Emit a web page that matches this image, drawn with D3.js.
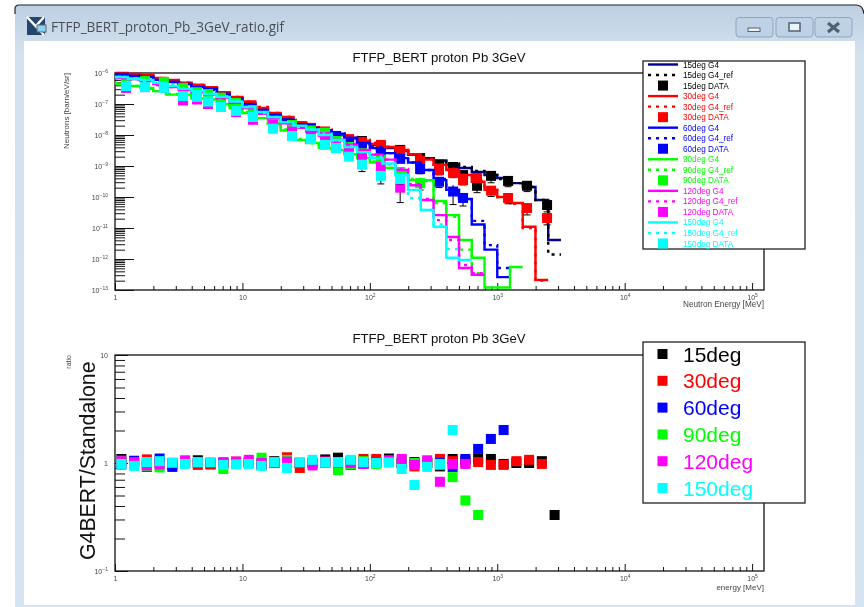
<!DOCTYPE html>
<meta charset="utf-8">
<style>
  body { margin: 0; background: #fff; }
  svg { display: block; filter: blur(0.55px); }
  text { font-family: "Liberation Sans", Arial, sans-serif; }
</style>

<!-- Load d3.js -->
<script src="https://d3js.org/d3.v7.js"></script>

<svg id="my_dataviz" width="864" height="607"></svg>

<script>

// Angles and colours
const angles = ["15deg", "30deg", "60deg", "90deg", "120deg", "150deg"];
const colors = ["#000000", "#ff0000", "#0000ff", "#00ff00", "#ff00ff", "#00ffff"];
const lineColors = ["#00008b", "#ff0000", "#0000ff", "#00ff00", "#ff00ff", "#00ffff"];

// Energy of the measured points [MeV]
const dataEnergy = [1.22, 1.72, 2.42, 3.42, 4.4, 5.37, 6.79, 8.9, 12.1, 17.4, 24.5, 34.5, 44.5, 54.3,
  68.7, 86.8, 122, 173, 248, 349, 450, 539, 694, 894, 1216, 1713, 2460];

// Measured points
const data15 = [6.4e-7, 6e-7, 5.1e-7, 3.5e-7, 2.8e-7, 2.4e-7, 1.6e-7, 8.6e-8, 5.1e-8, 2.8e-8, 2e-8, 1.6e-8, 1.1e-8, 8.6e-9,
  6.9e-9, 6.4e-9, 4.4e-9, 3.3e-9, 1.8e-9, 1.1e-9, 9.3e-10, 5.1e-10, 2.3e-10, 4.8e-10, 3.3e-10, 2.3e-10, 5.5e-11];
const data30 = [6.4e-7, 6.4e-7, 5.1e-7, 3.5e-7, 3.1e-7, 2.3e-7, 1.6e-7, 9.3e-8, 5.5e-8, 3.1e-8, 2.3e-8, 1.7e-8, 1.3e-8, 9.3e-9,
  7.4e-9, 6e-9, 4.8e-9, 3.1e-9, 1.5e-9, 7.4e-10, 6e-10, 3.5e-10, 4.1e-10, 1.6e-10, 9.3e-11, 4.4e-11, 2.1e-11];
const data60 = [6e-7, 5.5e-7, 4.8e-7, 3.1e-7, 2.6e-7, 2.1e-7, 1.5e-7, 8e-8, 5.1e-8, 2.6e-8, 1.8e-8, 1.6e-8, 1.2e-8, 9.3e-9,
  6e-9, 4.1e-9, 2.6e-9, 1.7e-9, 8e-10, 3.1e-10, 1.5e-10, 9.3e-11];
const data90 = [5.1e-7, 5.5e-7, 5.1e-7, 3.3e-7, 2.4e-7, 2.1e-7, 1.6e-7, 1.1e-7, 6.4e-8, 2.6e-8, 2.1e-8, 1.4e-8, 1.2e-8, 6.4e-9,
  4.1e-9, 2.6e-9, 1.6e-9, 6.4e-10, 2.8e-10];
const data120 = [3.3e-7, 3.5e-7, 3.3e-7, 1.3e-7, 1.4e-7, 1e-7, 8e-8, 5.5e-8, 3.1e-8, 2.1e-8, 1.3e-8, 8.6e-9, 8.6e-9, 4.1e-9,
  3.3e-9, 1.8e-9, 9.3e-10, 2e-10];
const data150 = [3.8e-7, 3.5e-7, 3.3e-7, 1.8e-7, 1.7e-7, 1.2e-7, 8e-8, 6e-8, 3.8e-8, 1.6e-8, 9.3e-9, 7.4e-9, 4.8e-9, 3.8e-9,
  2e-9, 1.1e-9, 4.8e-10, 3.8e-10];

// Relative errors of the measured points
const err15 = [.1, .1, .1, .1, .1, .1, .1, .1, .1, .15, .15, .15, .15, .15, .15, .2, .2, .2, .2, .3, .3, .3, .4, .4, .35, .35, .4];
const err30 = [.1, .1, .1, .1, .1, .1, .1, .1, .1, .15, .15, .15, .15, .15, .15, .2, .2, .2, .2, .3, .3, .3, .3, .35, .35, .4, .4];
const err60 = [.1, .1, .1, .1, .1, .1, .1, .1, .1, .15, .15, .15, .15, .15, .15, .2, .2, .2, .3, .35, .62, .45];
const err90 = [.1, .1, .1, .1, .1, .1, .1, .1, .1, .15, .15, .15, .15, .15, .15, .2, .2, .3, .4];
const err120 = [.1, .1, .1, .1, .1, .1, .1, .1, .1, .15, .15, .15, .15, .15, .15, .2, .3, .67];
const err150 = [.1, .1, .1, .1, .1, .1, .1, .1, .1, .15, .15, .15, .15, .15, .2, .4, .45, .3];

// G4 histograms, one value for each bin of 1/10 decade starting at 1 MeV
const g4_15 = [9.3e-7, 8.6e-7, 8e-7, 6.4e-7, 5.5e-7, 4.8e-7, 3.8e-7, 3.3e-7, 2.3e-7, 1.6e-7, 1.1e-7, 6.9e-8, 4.8e-8, 3.5e-8, 2.4e-8, 1.8e-8, 1.4e-8, 1e-8,
  8e-9, 6.4e-9, 4.8e-9, 3.8e-9, 3.1e-9, 2.3e-9, 1.8e-9, 1.5e-9, 1.1e-9, 8.6e-10, 6.4e-10, 5.1e-10, 4.1e-10, 2.8e-10, 2.1e-10, 8e-11, 4.1e-12];
const g4_30 = [1e-6, 9.3e-7, 8.6e-7, 6.9e-7, 6e-7, 4.8e-7, 4.1e-7, 3.5e-7, 2.4e-7, 1.7e-7, 1.2e-7, 7.4e-8, 5.1e-8, 3.8e-8, 2.6e-8, 1.8e-8, 1.4e-8, 1e-8,
  8e-9, 6.4e-9, 5.1e-9, 4.1e-9, 3.3e-9, 2.4e-9, 1.6e-9, 1.1e-9, 7.4e-10, 5.1e-10, 3.1e-10, 1.7e-10, 1e-10, 6.4e-11, 1.1e-11, 2.1e-13];
const g4_60 = [9.3e-7, 8e-7, 7.4e-7, 6e-7, 5.1e-7, 4.4e-7, 3.5e-7, 3.1e-7, 2.1e-7, 1.5e-7, 9.3e-8, 6.4e-8, 4.4e-8, 3.1e-8, 2.1e-8, 1.7e-8, 1.4e-8, 1.1e-8,
  8e-9, 5.5e-9, 3.8e-9, 2.6e-9, 1.8e-9, 1.3e-9, 7.4e-10, 3.5e-10, 1.7e-10, 8.6e-11, 1.3e-11, 2e-12, 2.6e-13];
const g4_90 = [4.4e-7, 3.8e-7, 3.3e-7, 2.6e-7, 2e-7, 2e-7, 1.5e-7, 1.4e-7, 1e-7, 7.4e-8, 5.1e-8, 3.5e-8, 2.3e-8, 1.4e-8, 6.9e-9, 5.5e-9, 3.8e-9, 3.3e-9,
  2.4e-9, 1.8e-9, 1.3e-9, 8.6e-10, 6.4e-10, 3.5e-10, 3.5e-10, 7.4e-11, 2.6e-11, 4.1e-12, 1.1e-12, 1.2e-13, 1.2e-13, 5.5e-13];
const g4_120 = [6.9e-7, 6.4e-7, 5.5e-7, 4.4e-7, 3.5e-7, 2.8e-7, 2.4e-7, 2e-7, 1.6e-7, 1.1e-7, 7.4e-8, 4.8e-8, 3.5e-8, 2.4e-8, 1.7e-8, 1.3e-8, 9.3e-9, 6.9e-9,
  4.8e-9, 3.3e-9, 2.3e-9, 1.6e-9, 7.4e-10, 2.4e-10, 8e-11, 2.6e-11, 5.1e-12, 5.1e-13, 3.1e-13];
const g4_150 = [7.4e-7, 6.4e-7, 6e-7, 4.8e-7, 3.8e-7, 3.1e-7, 2.6e-7, 2.1e-7, 1.7e-7, 1.2e-7, 8e-8, 5.5e-8, 3.8e-8, 2.6e-8, 2e-8, 1.5e-8, 1e-8, 6.9e-9,
  4.1e-9, 2.8e-9, 1.8e-9, 1.2e-9, 5.1e-10, 1.7e-10, 3.8e-11, 1.1e-11, 1.1e-12, 9.3e-13];

// G4_ref histograms, same bins
const ref_15 = [8.6e-7, 8.6e-7, 7.4e-7, 6.4e-7, 5.5e-7, 4.8e-7, 4.1e-7, 3.3e-7, 2.3e-7, 1.6e-7, 1.1e-7, 6.9e-8, 4.8e-8, 3.5e-8, 2.4e-8, 2e-8, 1.5e-8, 1.1e-8,
  8.6e-9, 6.4e-9, 5.1e-9, 4.1e-9, 3.1e-9, 2.4e-9, 1.8e-9, 1.4e-9, 1.2e-9, 9.3e-10, 6.9e-10, 5.1e-10, 3.8e-10, 2.8e-10, 2.1e-10, 8e-11, 1.4e-12];
const ref_30 = [9.3e-7, 9.3e-7, 8e-7, 6.9e-7, 5.5e-7, 4.8e-7, 3.8e-7, 3.5e-7, 2.4e-7, 1.7e-7, 1.2e-7, 8e-8, 5.1e-8, 3.8e-8, 2.6e-8, 2e-8, 1.5e-8, 1.1e-8,
  8e-9, 6.9e-9, 5.5e-9, 4.1e-9, 3.3e-9, 2.4e-9, 1.7e-9, 1.1e-9, 8e-10, 5.1e-10, 3.3e-10, 1.7e-10, 1e-10, 6e-11, 1e-11, 2e-13];
const ref_60 = [8.6e-7, 8e-7, 6.9e-7, 6e-7, 5.1e-7, 4.1e-7, 3.5e-7, 2.8e-7, 2.1e-7, 1.4e-7, 9.3e-8, 6.4e-8, 4.1e-8, 3.1e-8, 2.1e-8, 1.8e-8, 1.4e-8, 1.1e-8,
  8e-9, 5.5e-9, 4.1e-9, 2.6e-9, 2e-9, 1.3e-9, 7.4e-10, 3.8e-10, 1.7e-10, 1e-10, 1.7e-11, 2.8e-12, 5.1e-13];
const ref_90 = [4.8e-7, 3.8e-7, 3.1e-7, 2.6e-7, 2.1e-7, 1.8e-7, 1.6e-7, 1.4e-7, 1e-7, 7.4e-8, 5.5e-8, 3.5e-8, 2.3e-8, 1.5e-8, 7.4e-9, 5.5e-9, 4.1e-9, 3.1e-9,
  2.4e-9, 1.8e-9, 1.4e-9, 8.6e-10, 6e-10, 3.8e-10, 3.3e-10, 6.4e-11, 2.3e-11, 2e-12, 3.5e-13];
const ref_120 = [6.9e-7, 6e-7, 5.5e-7, 4.1e-7, 3.5e-7, 3.1e-7, 2.4e-7, 2e-7, 1.5e-7, 1.1e-7, 7.4e-8, 5.1e-8, 3.5e-8, 2.4e-8, 1.8e-8, 1.3e-8, 1e-8, 6.9e-9,
  5.1e-9, 3.3e-9, 2.4e-9, 1.6e-9, 8e-10, 2.6e-10, 8.6e-11, 1.8e-11, 4.1e-12, 6.4e-13, 3.5e-13];
const ref_150 = [7.4e-7, 6.4e-7, 5.5e-7, 4.8e-7, 4.1e-7, 3.1e-7, 2.4e-7, 2.1e-7, 1.7e-7, 1.3e-7, 8e-8, 5.1e-8, 3.8e-8, 2.6e-8, 1.8e-8, 1.5e-8, 1.1e-8, 6.4e-9,
  4.4e-9, 2.8e-9, 2e-9, 1.1e-9, 5.5e-10, 9.3e-11, 3.8e-11, 1.3e-11, 2.1e-12];

// Ratio panel, same bins
const ratio15 = [1.09, 1, .92, 1, .96, 1, 1.06, .97, 1, 1, 1, .97, 1.04, 1, 1, 1, 1.08, 1.12, 1.02, 1, 1.03, 1.1, 1, 1.02, 1, .93, 1.09, 1.05, 1.09, 1.09, .98, 1, 1, 1.04, .33];
const ratio30 = [1.02, 1.03, 1.08, 1.03, .99, 1.04, .96, .98, 1, 1.03, 1, .96, 1, 1.13, .9, 1, 1.03, 1, 1.04, 1.09, 1.09, 1.05, 1, .93, 1.02, 1.09, 1.04, 1, 1.02, .96, .96, 1.04, 1.07, .98];
const ratio60 = [.97, 1.05, 1, 1.1, .92, 1, 1, 1, 1, 1, 1.02, 1, 1, 1, 1, 1, 1, 1, .96, .98, 1, 1.02, 1, 1, 1, 1, .92, 1.09, 1.35, 1.67, 2.02];
const ratio90 = [1.05, 1, .93, .91, 1, 1, 1, 1, .88, 1, 1, 1.12, 1, 1.07, 1, 1, 1, .86, .97, 1.04, .98, 1.02, 1.06, 1, 1, .96, .74, .45, .33];
const ratio120 = [1.04, 1.02, .95, .97, 1, 1.06, 1, 1, 1.02, 1.03, 1.07, 1, 1, 1.03, 1, .95, 1.03, 1, 1, .98, 1, 1.06, 1.09, .96, 1.06, .67, .98, .98];
const ratio150 = [.98, .94, 1.02, 1.04, 1.01, .98, 1.02, 1.02, .96, .97, .98, .94, 1.02, .9, 1.02, 1.07, 1.02, 1.02, 1.07, 1.02, 1, 1.01, .88, .625, .92, .98, 2.02];

const allData = [data15, data30, data60, data90, data120, data150];
const allErr = [err15, err30, err60, err90, err120, err150];
const allG4 = [g4_15, g4_30, g4_60, g4_90, g4_120, g4_150];
const allRef = [ref_15, ref_30, ref_60, ref_90, ref_120, ref_150];
const allRatio = [ratio15, ratio30, ratio60, ratio90, ratio120, ratio150];

// Tick labels
const xMajor = [1, 10, 100, 1e3, 1e4, 1e5];
const xLabels = [["1", ""], ["10", ""], ["10", "2"], ["10", "3"], ["10", "4"], ["10", "5"]];
const yMajorTop = [1e-6, 1e-7, 1e-8, 1e-9, 1e-10, 1e-11, 1e-12, 1e-13];
const yLabelsTop = [["10", "-6"], ["10", "-7"], ["10", "-8"], ["10", "-9"], ["10", "-10"], ["10", "-11"], ["10", "-12"], ["10", "-13"]];
const yMajorBottom = [10, 1, 0.1];
const yLabelsBottom = [["10", ""], ["1", ""], ["10", "-1"]];

const plotTitle = "FTFP_BERT proton Pb 3GeV";

// The svg
const svg = d3.select("svg");

// Plot areas
const plotLeft = 115, plotRight = 764;
const xDomain = [1, 124000];
const x = d3.scaleLog().domain(xDomain).range([plotLeft, plotRight]);
const yTop = d3.scaleLog().domain([1e-6, 1e-13]).range([73, 290]);
const yBottom = d3.scaleLog().domain([10, 0.1]).range([355, 571]);

// Window frame around the picture
const frameGrad = svg.append("defs").append("linearGradient")
  .attr("id", "frame").attr("x1", 0).attr("x2", 0).attr("y1", 0).attr("y2", 1);
frameGrad.append("stop").attr("offset", 0).attr("stop-color", "#bccfe2");
frameGrad.append("stop").attr("offset", 0.08).attr("stop-color", "#d3e1ee");
frameGrad.append("stop").attr("offset", 1).attr("stop-color", "#d6e4f1");

svg.append("rect").attr("width", 864).attr("height", 607).attr("fill", "#fff");
svg.append("path")
  .attr("d", "M15,607V9Q15,5 19,5H856Q863,5 864,14V607Z")
  .attr("fill", "url(#frame)");
svg.append("path")
  .attr("d", "M15,14V9Q15,5 19,5H856Q863,5 864,14")
  .attr("fill", "none").attr("stroke", "#222").attr("stroke-width", 1.2);
svg.append("rect").attr("x", 24).attr("y", 41).attr("width", 831).attr("height", 564).attr("fill", "#fff");

// Window icon and name
const icon = svg.append("g");
icon.append("rect").attr("x", 27).attr("y", 17).attr("width", 18).attr("height", 18).attr("fill", "#24466e");
icon.append("path").attr("d", "M27,17L44,35M44,17L35,27").attr("stroke", "#fff").attr("stroke-width", 2.5);
icon.append("rect").attr("x", 37).attr("y", 25).attr("width", 9).attr("height", 7).attr("fill", "#8fd0ee").attr("stroke", "#567");
svg.append("text").attr("x", 51).attr("y", 32).attr("font-size", 14)
  .style("font-family", "'Open Sans'").attr("textLength", 233).attr("lengthAdjust", "spacingAndGlyphs")
  .attr("fill", "#4a4f55").text("FTFP_BERT_proton_Pb_3GeV_ratio.gif");

// Window buttons
[[736, 37], [776, 37], [815, 37]].forEach(function (b) {
  svg.append("rect").attr("x", b[0]).attr("y", 17.5).attr("width", b[1]).attr("height", 19.5).attr("rx", 3)
    .attr("fill", "#bfd2e5").attr("stroke", "#8fa6bf");
});
svg.append("rect").attr("x", 748).attr("y", 28).attr("width", 12).attr("height", 3.5).attr("fill", "#eef3f8").attr("stroke", "#4f6275");
svg.append("rect").attr("x", 789).attr("y", 23).attr("width", 11).attr("height", 8).attr("fill", "#eef3f8").attr("stroke", "#4f6275").attr("stroke-width", 1.5);
svg.append("path").attr("d", "M828,23L839,32M839,23L828,32").attr("stroke", "#4f6275").attr("stroke-width", 3.2);

// Writes "10" with its small exponent into the label of a tick
function setLabel(sel, labels, size) {
  sel.selectAll(".tick text").each(function (d, i) {
    const t = d3.select(this).attr("font-size", size).attr("fill", "#444");
    t.append("tspan").text(labels[i][0]);
    if (labels[i][1]) t.append("tspan").attr("dy", -3).attr("font-size", size * 0.72).text(labels[i][1].replace("-", "\u2212"));
  });
}

// Log minor ticks between two majors
function minorTicks(lo, hi, limit) {
  const out = [];
  for (let e = lo; e < hi; e++) {
    for (let m = 2; m < 10; m++) {
      const v = m * Math.pow(10, e);
      if (v < limit) out.push(v);
    }
  }
  return out;
}

function drawAxes(y, bottom, yMajor, yLabels, yMajorLen, minE, maxE) {
  const g = svg.append("g");

  // x minor, x major
  g.append("g").attr("transform", `translate(0,${bottom})`)
    .call(d3.axisBottom(x).tickValues(minorTicks(0, 6, xDomain[1])).tickSize(-4).tickFormat(""))
    .call(a => a.select(".domain").remove());
  const xa = g.append("g").attr("transform", `translate(0,${bottom})`)
    .call(d3.axisBottom(x).tickValues(xMajor).tickSize(-7).tickPadding(5).tickFormat(""))
    .call(a => a.select(".domain").remove());
  setLabel(xa, xLabels, 7);

  // y minor, y major
  g.append("g").attr("transform", `translate(${plotLeft},0)`)
    .call(d3.axisLeft(y).tickValues(minorTicks(minE, maxE, 10)).tickSize(-10).tickFormat(""))
    .call(a => a.select(".domain").remove());
  const ya = g.append("g").attr("transform", `translate(${plotLeft},0)`)
    .call(d3.axisLeft(y).tickValues(yMajor).tickSize(-yMajorLen).tickPadding(7).tickFormat(""))
    .call(a => a.select(".domain").remove());
  setLabel(ya, yLabels, 7);

  g.selectAll(".tick line").attr("stroke", "#111").attr("stroke-width", 1);

  // Frame
  g.append("rect")
    .attr("x", plotLeft).attr("y", y.range()[0])
    .attr("width", plotRight - plotLeft).attr("height", y.range()[1] - y.range()[0])
    .attr("fill", "none").attr("stroke", "#111").attr("stroke-width", 1.3);
}

drawAxes(yTop, 290, yMajorTop, yLabelsTop, 19, -13, -6);
drawAxes(yBottom, 571, yMajorBottom, yLabelsBottom, 13, -1, 1);

// Titles and axis names
function smallText(xp, yp, txt, size, anchor, rotate) {
  const t = svg.append("text").attr("font-size", size).attr("fill", "#444").attr("text-anchor", anchor).text(txt);
  if (rotate) t.attr("transform", `translate(${xp},${yp}) rotate(-90)`);
  else t.attr("x", xp).attr("y", yp);
  return t;
}
smallText(439, 62, plotTitle, 13.2, "middle").attr("fill", "#111");
smallText(439, 343, plotTitle, 13.2, "middle").attr("fill", "#111");
smallText(764, 306.5, "Neutron Energy [MeV]", 8.2, "end");
smallText(764, 590, "energy [MeV]", 8, "end");
smallText(69, 73, "Neutrons [barn/eV/sr]", 8, "end", true);
smallText(71, 355, "ratio", 7, "end", true);
smallText(95, 560, "G4BERT/Standalone", 21.3, "start", true).attr("fill", "#111");

// Histogram step line, one point on each lower bin edge and the last upper edge
const stepLine = d3.line()
  .x(d => x(d[0]))
  .y(d => yTop(d[1]))
  .curve(d3.curveStepAfter);

function binEdges(values) {
  const pts = values.map((v, i) => [Math.pow(10, i / 10), v]);
  pts.push([Math.pow(10, values.length / 10), values[values.length - 1]]);
  return pts;
}

// Top panel, each angle is drawn over the previous one
const topPanel = svg.append("g");
angles.forEach(function (a, s) {
  const g = topPanel.append("g");
  g.append("path").datum(binEdges(allG4[s])).attr("d", stepLine)
    .attr("fill", "none").attr("stroke", lineColors[s]).attr("stroke-width", 2.4);
  g.append("path").datum(binEdges(allRef[s])).attr("d", stepLine)
    .attr("fill", "none").attr("stroke", colors[s]).attr("stroke-width", 2.4).attr("stroke-dasharray", "3,5");

  allData[s].forEach(function (v, i) {
    const px = x(dataEnergy[i]), e = allErr[s][i];
    g.append("line").attr("x1", px).attr("x2", px)
      .attr("y1", yTop(v * (1 + e))).attr("y2", yTop(v * (1 - e))).attr("stroke", "#000");
    g.append("line").attr("x1", px - 3.5).attr("x2", px + 3.5)
      .attr("y1", yTop(v * (1 - e))).attr("y2", yTop(v * (1 - e))).attr("stroke", "#000");
    g.append("rect").attr("x", px - 5).attr("y", yTop(v) - 5).attr("width", 10).attr("height", 10).attr("fill", colors[s]);
  });
});

// Ratio panel
angles.forEach(function (a, s) {
  svg.append("g").selectAll("rect")
    .data(allRatio[s])
    .join("rect")
      .attr("x", (d, i) => x(Math.pow(10, (i + 0.5) / 10)) - 5)
      .attr("y", d => yBottom(d) - 5)
      .attr("width", 10).attr("height", 10)
      .attr("fill", colors[s]);
});

// Top legend
const legendRows = [];
angles.forEach(function (a, s) {
  legendRows.push({ kind: "line", s: s, label: a + " G4" });
  legendRows.push({ kind: "dash", s: s, label: a + " G4_ref" });
  legendRows.push({ kind: "box", s: s, label: a + " DATA" });
});
const rowY = d3.scalePoint().domain(d3.range(18)).range([64.5, 243.5]);

svg.append("rect").attr("x", 643).attr("y", 61).attr("width", 162).attr("height", 188)
  .attr("fill", "#fff").attr("stroke", "#222").attr("stroke-width", 1.3);
legendRows.forEach(function (r, i) {
  const ly = rowY(i);
  if (r.kind === "box") {
    svg.append("rect").attr("x", 658).attr("y", ly - 5).attr("width", 10).attr("height", 10).attr("fill", colors[r.s]);
  } else {
    svg.append("line").attr("x1", 648).attr("x2", 678).attr("y1", ly).attr("y2", ly)
      .attr("stroke", r.kind === "line" ? lineColors[r.s] : colors[r.s]).attr("stroke-width", 2.4)
      .attr("stroke-dasharray", r.kind === "dash" ? "3,5" : null);
  }
  svg.append("text").attr("x", 683).attr("y", ly + 3).attr("font-size", 8.2)
    .attr("fill", colors[r.s]).text(r.label);
});

// Ratio legend
const ratioY = d3.scalePoint().domain(angles).range([354, 488]);
svg.append("rect").attr("x", 643).attr("y", 342).attr("width", 162).attr("height", 161)
  .attr("fill", "#fff").attr("stroke", "#222").attr("stroke-width", 1.3);
angles.forEach(function (a, s) {
  svg.append("rect").attr("x", 657.5).attr("y", ratioY(a) - 5).attr("width", 10).attr("height", 10).attr("fill", colors[s]);
  svg.append("text").attr("x", 683).attr("y", ratioY(a) + 7.5).attr("font-size", 21)
    .attr("fill", colors[s]).text(a);
});

</script>
